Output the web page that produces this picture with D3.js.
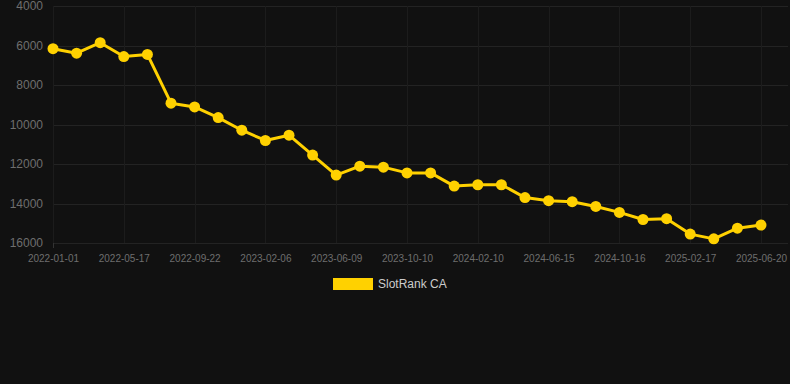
<!DOCTYPE html>
<html>
<head>
<meta charset="utf-8">
<script src="https://cdn.jsdelivr.net/npm/d3@7"></script>
<style>
  body { margin: 0; background: #111111; }
  svg { display: block; font-family: "Liberation Sans", Arial, sans-serif; }
</style>
</head>
<body>
<div id="chart"></div>
<script>
// dates of each rank reading (category axis, every 3rd one labelled)
var dates = [
  "2022-01-01", "2022-02-15", "2022-04-01", "2022-05-17", "2022-07-01", "2022-08-07",
  "2022-09-22", "2022-11-06", "2022-12-22", "2023-02-06", "2023-03-23", "2023-04-25",
  "2023-06-09", "2023-07-24", "2023-08-26", "2023-10-10", "2023-11-24", "2023-12-27",
  "2024-02-10", "2024-03-26", "2024-05-01", "2024-06-15", "2024-07-30", "2024-09-01",
  "2024-10-16", "2024-11-30", "2025-01-03", "2025-02-17", "2025-04-03", "2025-05-06",
  "2025-06-20"
];
var rank = [
  6160, 6390, 5860, 6560, 6450, 8920,
  9110, 9650, 10290, 10810, 10540, 11550,
  12560, 12110, 12160, 12450, 12450, 13120,
  13050, 13050, 13700, 13860, 13910, 14150,
  14450, 14810, 14770, 15550, 15790, 15250,
  15090
];
var yTicks = [4000, 6000, 8000, 10000, 12000, 14000, 16000];
var seriesName = "SlotRank CA";

var width = 790, height = 384;
var plotLeft = 53, plotRight = 788, plotTop = 6, plotBottom = 243;

var svg = d3.select("#chart").append("svg")
  .attr("width", width)
  .attr("height", height);

var x = d3.scalePoint()
  .domain(dates)
  .range([plotLeft, 761]);

var y = d3.scaleLinear()
  .domain([4000, 16000])
  .range([plotTop, plotBottom]);

// horizontal grid
svg.append("g").selectAll("line")
  .data(yTicks)
  .enter().append("line")
  .attr("x1", plotLeft).attr("x2", plotRight)
  .attr("y1", function(d) { return Math.round(y(d)) + 0.5; })
  .attr("y2", function(d) { return Math.round(y(d)) + 0.5; })
  .attr("stroke", "#232323");

// vertical grid at labelled dates
var shown = dates.filter(function(d, i) { return i % 3 === 0; });
svg.append("g").selectAll("line")
  .data(shown)
  .enter().append("line")
  .attr("x1", function(d) { return Math.round(x(d)) + 0.5; })
  .attr("x2", function(d) { return Math.round(x(d)) + 0.5; })
  .attr("y1", plotTop).attr("y2", plotBottom)
  .attr("stroke", "#1c1c1c");

// y axis labels
svg.append("g").selectAll("text")
  .data(yTicks)
  .enter().append("text")
  .attr("x", 43)
  .attr("y", function(d) { return y(d); })
  .attr("dy", "0.35em")
  .attr("text-anchor", "end")
  .attr("fill", "#6e6e6e")
  .attr("font-size", 12)
  .text(function(d) { return d; });

// x axis
var xAxis = svg.append("g")
  .attr("transform", "translate(0," + plotBottom + ")")
  .call(d3.axisBottom(x).tickValues(shown).tickSize(0).tickPadding(12));
xAxis.select(".domain").remove();
xAxis.selectAll("text")
  .attr("fill", "#6e6e6e")
  .attr("font-size", 10)
  .attr("font-family", "Liberation Sans, Arial, sans-serif");
svg.append("line")
  .attr("x1", x(dates[0]) + 0.5).attr("x2", x(dates[0]) + 0.5)
  .attr("y1", plotBottom).attr("y2", plotBottom + 5)
  .attr("stroke", "#333");

// line + points
var line = d3.line()
  .x(function(d, i) { return x(dates[i]); })
  .y(function(d) { return y(d); });

svg.append("path")
  .datum(rank)
  .attr("d", line)
  .attr("fill", "none")
  .attr("stroke", "#ffd100")
  .attr("stroke-width", 3)
  .attr("stroke-linejoin", "round");

svg.append("g").selectAll("circle")
  .data(rank)
  .enter().append("circle")
  .attr("cx", function(d, i) { return x(dates[i]); })
  .attr("cy", function(d) { return y(d); })
  .attr("r", 5.5)
  .attr("fill", "#ffd100");

// legend
var legend = svg.append("g").attr("transform", "translate(333,278)");
legend.append("rect")
  .attr("width", 40).attr("height", 12)
  .attr("fill", "#ffd100");
legend.append("text")
  .attr("x", 45).attr("y", 6)
  .attr("dy", "0.35em")
  .attr("fill", "#cccccc")
  .attr("font-size", 12)
  .text(seriesName);
</script>
</body>
</html>
